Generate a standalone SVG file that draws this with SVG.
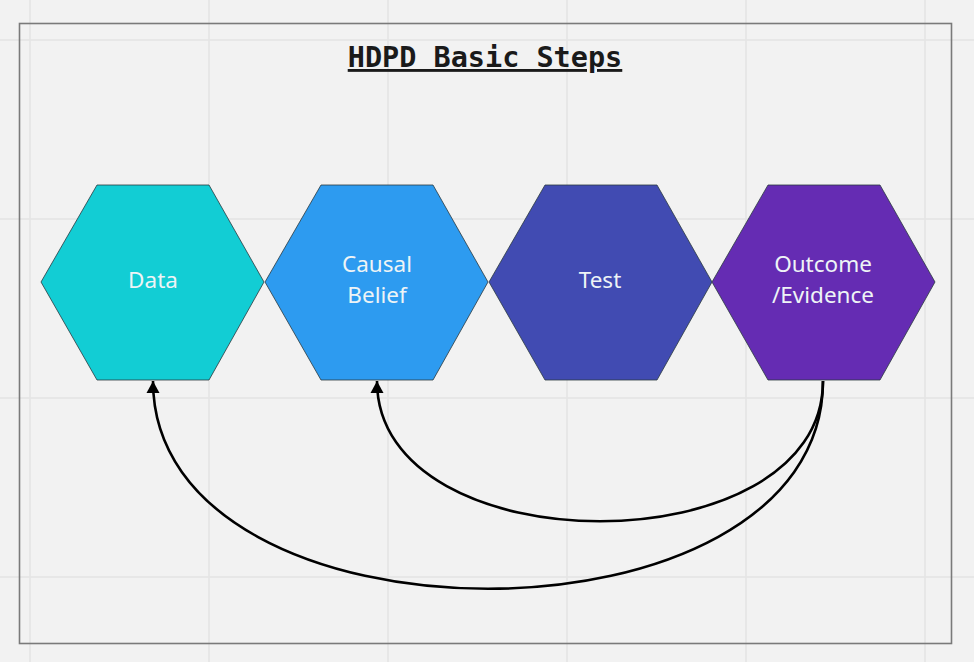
<svg xmlns="http://www.w3.org/2000/svg" width="974" height="662" viewBox="0 0 974 662">
<defs>
<style>
.grid{stroke:#e4e4e4;stroke-width:1.5;fill:none}
.hex{stroke:#2a3a40;stroke-opacity:0.8;stroke-width:1}
.lbl{font-family:"Noto Sans","Open Sans",sans-serif;font-size:22.5px;fill:#eef4f6;text-anchor:middle}
.conn{fill:none;stroke:#000;stroke-width:2.6}
</style>
<marker id="ah" viewBox="0 0 12 14" refX="12" refY="7" markerWidth="12" markerHeight="14" markerUnits="userSpaceOnUse" orient="auto">
<path d="M0,0.5 L12,7 L0,13.5 Z" fill="#000"/>
</marker>
</defs>
<rect width="974" height="662" fill="#f2f2f2"/>
<g id="grid" class="grid">
<path d="M30,0V662M209,0V662M388,0V662M567,0V662M746,0V662M925,0V662M0,40H974M0,219H974M0,398H974M0,577H974"/>
</g>
<rect id="frame" x="19.5" y="23.5" width="932" height="620" fill="none" stroke="#7a7a7a" stroke-width="1.6"/>
<g id="title">
<text x="485" y="67" font-family="'DejaVu Sans Mono','Liberation Mono',monospace" font-weight="bold" font-size="28.5" fill="#1a1a1a" text-anchor="middle" text-decoration="underline">HDPD Basic Steps</text>
</g>
<g id="node-data">
<polygon class="hex" fill="#12cdd4" points="41,282 97,185 209,185 264,282 209,380 97,380"/>
<text class="lbl" x="153" y="288">Data</text>
</g>
<g id="node-causal">
<polygon class="hex" fill="#2d9bf0" points="265,282 321,185 433,185 488,282 433,380 321,380"/>
<text class="lbl" x="377" y="272">Causal</text>
<text class="lbl" x="377" y="303">Belief</text>
</g>
<g id="node-test">
<polygon class="hex" fill="#414bb2" points="489,282 545,185 657,185 712,282 657,380 545,380"/>
<text class="lbl" x="600" y="288">Test</text>
</g>
<g id="node-outcome">
<polygon class="hex" fill="#652cb3" points="712,282 768,185 880,185 935,282 880,380 768,380"/>
<text class="lbl" x="823" y="272">Outcome</text>
<text class="lbl" x="823" y="303">/Evidence</text>
</g>
<g id="connectors">
<path class="conn" marker-end="url(#ah)" d="M823,381 C823,568 377,568 377,381"/>
<path class="conn" marker-end="url(#ah)" d="M823,381 C823,658 153,658 153,381"/>
</g>
</svg>
